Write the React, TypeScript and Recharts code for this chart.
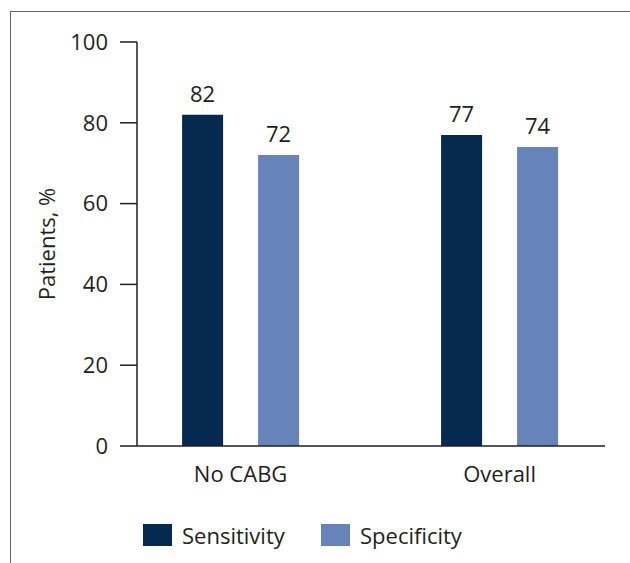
import { BarChart, Bar, XAxis, YAxis, Legend, LabelList } from 'recharts';

const categories = ['No CABG', 'Overall'];
const sensitivity = [82, 77];
const specificity = [72, 74];
const yTicks = [0, 20, 40, 60, 80, 100];

const SENS = '#06294f';
const SPEC = '#6683ba';
const INK = '#231f20';
const FONT = '"Open Sans", sans-serif';

const data = categories.map((name, i) => ({
  pos: i,
  name,
  sensitivity: sensitivity[i],
  specificity: specificity[i]
}));

const legendItems = [
  { label: 'Sensitivity', color: SENS },
  { label: 'Specificity', color: SPEC }
];

function LegendBox() {
  return (
    <div style={{ display: 'flex', fontFamily: FONT, fontSize: 22, color: INK }}>
      {legendItems.map((it) => (
        <div key={it.label} style={{ display: 'flex', alignItems: 'center', width: 178 }}>
          <span style={{ display: 'inline-block', width: 29, height: 22, background: it.color }} />
          <span style={{ marginLeft: 10, lineHeight: '22px' }}>{it.label}</span>
        </div>
      ))}
    </div>
  );
}

function YLabel() {
  return (
    <text
      x={0}
      y={0}
      transform="translate(55, 244) rotate(-90)"
      textAnchor="middle"
      fontFamily={FONT}
      fontSize={22}
      fill={INK}
    >
      Patients, %
    </text>
  );
}

export default function App() {
  return (
    <div style={{ position: 'absolute', left: 0, top: 0, width: 630, height: 563, background: '#fff' }}>
      {/* frame */}
      <div
        style={{
          position: 'absolute',
          left: 10,
          top: 11,
          right: 0,
          bottom: 0,
          borderTop: '1.3px solid #666',
          borderLeft: '1.3px solid #666'
        }}
      />
      <BarChart
        width={630}
        height={563}
        data={data}
        margin={{ top: 42, right: 25, left: 20, bottom: 77 }}
        barGap={35}
        style={{ position: 'absolute', left: 0, top: 0 }}
      >
        <XAxis
          type="number"
          dataKey="pos"
          domain={[-0.4, 1.407]}
          ticks={[0, 1]}
          tickFormatter={(v) => categories[v] ?? ''}
          height={40}
          tickLine={false}
          tickSize={6}
          tickMargin={14}
          axisLine={{ stroke: INK, strokeWidth: 1.5 }}
          tick={{ fontSize: 22, fill: INK, fontFamily: FONT }}
          allowDataOverflow
        />
        <YAxis
          domain={[0, 100]}
          ticks={yTicks}
          width={117}
          tickSize={17}
          tickMargin={12}
          axisLine={{ stroke: INK, strokeWidth: 1.5 }}
          tickLine={{ stroke: INK, strokeWidth: 1.5 }}
          tick={{ fontSize: 22, fill: INK, fontFamily: FONT }}
          label={<YLabel />}
        />
        <Legend
          layout="horizontal"
          verticalAlign="middle"
          align="center"
          wrapperStyle={{ top: 524, left: 143, width: 360 }}
          content={<LegendBox />}
        />
        <Bar dataKey="sensitivity" fill={SENS} barSize={41} isAnimationActive={false}>
          <LabelList dataKey="sensitivity" position="top" offset={13} fontSize={22} fill={INK} fontFamily={FONT} />
        </Bar>
        <Bar dataKey="specificity" fill={SPEC} barSize={41} isAnimationActive={false}>
          <LabelList dataKey="specificity" position="top" offset={13} fontSize={22} fill={INK} fontFamily={FONT} />
        </Bar>
      </BarChart>
    </div>
  );
}
